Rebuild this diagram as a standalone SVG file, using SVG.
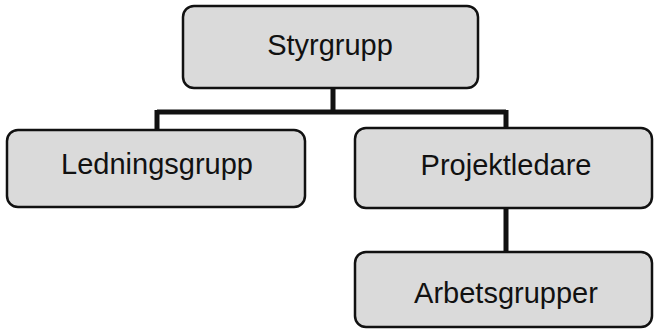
<svg xmlns="http://www.w3.org/2000/svg" width="655" height="329" viewBox="0 0 655 329">
<style>
.box{fill:#dadada;stroke:#111;stroke-width:2.5}
.lbl{font-family:"Liberation Sans",Arial,sans-serif;font-size:29px;fill:#111;text-anchor:middle}
.con{fill:none;stroke:#111;stroke-width:5}
</style>
<rect width="655" height="329" fill="#fff"/>
<g id="connectors">
<path class="con" d="M333 88 V112 M157 112 H506 M157 110 V130 M506 110 V128 M506 208 V252"/>
</g>
<g id="styrgrupp">
<rect class="box" x="183" y="6" width="295" height="82" rx="11"/>
<text class="lbl" x="330" y="55">Styrgrupp</text>
</g>
<g id="ledningsgrupp">
<rect class="box" x="7" y="130" width="298" height="77" rx="11"/>
<text class="lbl" x="157" y="174">Ledningsgrupp</text>
</g>
<g id="projektledare">
<rect class="box" x="355" y="128" width="297" height="80" rx="11"/>
<text class="lbl" x="506" y="175">Projektledare</text>
</g>
<g id="arbetsgrupper">
<rect class="box" x="355" y="252" width="297" height="75" rx="11"/>
<text class="lbl" x="506" y="303">Arbetsgrupper</text>
</g>
</svg>
